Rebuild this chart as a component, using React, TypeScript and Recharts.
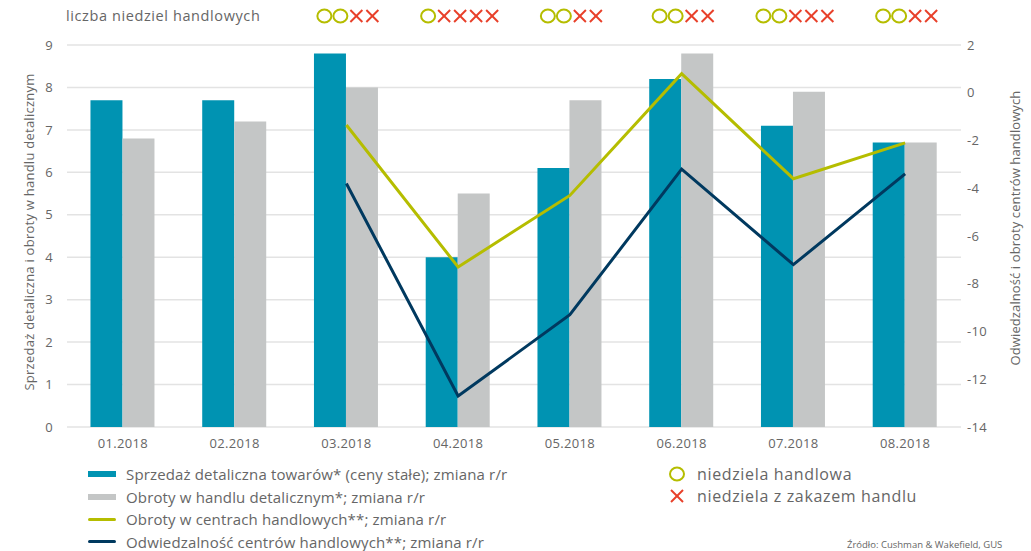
import React from 'react';
import { ComposedChart, Bar, Line, XAxis, YAxis, CartesianGrid } from 'recharts';

const months = ['01.2018', '02.2018', '03.2018', '04.2018', '05.2018', '06.2018', '07.2018', '08.2018'];
const retailSales = [7.7, 7.7, 8.8, 4.0, 6.1, 8.2, 7.1, 6.7];
const retailTurnover = [6.8, 7.2, 8.0, 5.5, 7.7, 8.8, 7.9, 6.7];
const centreTurnover = [null, null, -1.35, -7.3, -4.3, 0.8, -3.6, -2.1];
const centreFootfall = [null, null, -3.8, -12.7, -9.3, -3.2, -7.2, -3.4];
const tradingSundays = [0, 0, 2, 1, 2, 2, 2, 2];
const bannedSundays = [0, 0, 2, 4, 2, 2, 3, 2];

const leftTicks = [0, 1, 2, 3, 4, 5, 6, 7, 8, 9];
const rightTicks = [-14, -12, -10, -8, -6, -4, -2, 0, 2];

const TEAL = '#0093b2';
const GREY = '#c4c6c6';
const OLIVE = '#b5bd00';
const NAVY = '#00395f';
const RED = '#e8402a';
const TEXT = '#666666';
const FONT = '"Open Sans", sans-serif';

const data = months.map((m, i) => ({
  month: m,
  sprzedaz: retailSales[i],
  obroty: retailTurnover[i],
  centra: centreTurnover[i],
  odwiedzalnosc: centreFootfall[i],
}));

function Circle({ cx, cy }: { cx: number; cy: number }) {
  return <ellipse cx={cx} cy={cy} rx={7} ry={6.5} fill="none" stroke={OLIVE} strokeWidth={2} />;
}

function Cross({ cx, cy }: { cx: number; cy: number }) {
  const s = 6;
  return (
    <g stroke={RED} strokeWidth={2}>
      <line x1={cx - s} y1={cy - s} x2={cx + s} y2={cy + s} />
      <line x1={cx - s} y1={cy + s} x2={cx + s} y2={cy - s} />
    </g>
  );
}

// symbole niedziel nad kazdym miesiacem
function SundayTick(props: any) {
  const { x, payload } = props;
  const i = months.indexOf(payload.value);
  const t = tradingSundays[i] || 0;
  const b = bannedSundays[i] || 0;
  const n = t + b;
  const pitch = 16;
  const y = 16;
  const start = x - (n * pitch) / 2 + pitch / 2 + 2;
  const items = [];
  for (let k = 0; k < n; k++) {
    const cx = start + k * pitch;
    items.push(k < t ? <Circle key={k} cx={cx} cy={y} /> : <Cross key={k} cx={cx} cy={y} />);
  }
  return <g>{items}</g>;
}

const legendLeft = [
  { label: 'Sprzedaż detaliczna towarów* (ceny stałe); zmiana r/r', color: TEAL, kind: 'bar' },
  { label: 'Obroty w handlu detalicznym*; zmiana r/r', color: GREY, kind: 'bar' },
  { label: 'Obroty w centrach handlowych**; zmiana r/r', color: OLIVE, kind: 'line' },
  { label: 'Odwiedzalność centrów handlowych**; zmiana r/r', color: NAVY, kind: 'line' },
];

export default function App() {
  const tickStyle = { fill: TEXT, fontSize: 13, fontFamily: FONT, letterSpacing: 0.3 };
  return (
    <div style={{ position: 'absolute', left: 0, top: 0, width: 1031, height: 551, overflow: 'hidden', fontFamily: FONT, color: TEXT, background: '#fff' }}>
      <ComposedChart width={1031} height={551} data={data} margin={{ top: 0, right: 0, left: 0, bottom: 94 }} barCategoryGap="21%" barGap={0}>
        <CartesianGrid yAxisId="left" vertical={false} stroke="#e3e3e3" strokeWidth={1.5} />
        <XAxis dataKey="month" axisLine={false} tickLine={false} height={30} interval={0} tick={tickStyle} tickMargin={6} />
        <XAxis xAxisId="top" orientation="top" dataKey="month" height={45} axisLine={false} tickLine={false} interval={0} tick={<SundayTick />} />
        <YAxis yAxisId="left" width={67} domain={[0, 9]} ticks={leftTicks} axisLine={false} tickLine={false} tick={tickStyle} tickMargin={8} />
        <YAxis yAxisId="right" orientation="right" width={70} domain={[-14, 2]} ticks={rightTicks} axisLine={false} tickLine={false} tick={tickStyle} tickMargin={0} />
        <Bar yAxisId="left" dataKey="sprzedaz" fill={TEAL} isAnimationActive={false} />
        <Bar yAxisId="left" dataKey="obroty" fill={GREY} isAnimationActive={false} />
        <Line yAxisId="right" dataKey="centra" stroke={OLIVE} strokeWidth={3} dot={false} type="linear" isAnimationActive={false} />
        <Line yAxisId="right" dataKey="odwiedzalnosc" stroke={NAVY} strokeWidth={3} dot={false} type="linear" isAnimationActive={false} />
      </ComposedChart>

      <div style={{ position: 'absolute', left: 66, top: 6, fontSize: 14.5, letterSpacing: 0.6, lineHeight: '20px' }}>liczba niedziel handlowych</div>

      <div style={{ position: 'absolute', left: 29 - 200, top: 232 - 10, width: 400, height: 20, lineHeight: '20px', fontSize: 13, letterSpacing: 0.25, textAlign: 'center', transform: 'rotate(-90deg)' }}>
        Sprzedaż detaliczna i obroty w handlu detalicznym
      </div>
      <div style={{ position: 'absolute', left: 1015 - 200, top: 228 - 10, width: 400, height: 20, lineHeight: '20px', fontSize: 13, letterSpacing: 0.1, textAlign: 'center', transform: 'rotate(-90deg)' }}>
        Odwiedzalność i obroty centrów handlowych
      </div>

      {legendLeft.map((item, i) => (
        <div key={item.label} style={{ position: 'absolute', left: 88, top: 474 + i * 22.5 - 11, height: 22, display: 'flex', alignItems: 'center', fontSize: 15, letterSpacing: 0.15 }}>
          <span style={{ display: 'inline-block', width: 28, height: item.kind === 'bar' ? 6 : 3, borderRadius: item.kind === 'bar' ? 0 : 2, background: item.color, marginRight: 10 }} />
          <span>{item.label}</span>
        </div>
      ))}

      <div style={{ position: 'absolute', left: 668, top: 463, height: 22, display: 'flex', alignItems: 'center', fontSize: 16, letterSpacing: 0.65 }}>
        <svg width={18} height={16} style={{ marginRight: 11 }}><ellipse cx={9} cy={8} rx={7} ry={6.5} fill="none" stroke={OLIVE} strokeWidth={2} /></svg>
        <span>niedziela handlowa</span>
      </div>
      <div style={{ position: 'absolute', left: 668, top: 485, height: 22, display: 'flex', alignItems: 'center', fontSize: 16, letterSpacing: 0.65 }}>
        <svg width={18} height={16} style={{ marginRight: 11 }}>
          <g stroke={RED} strokeWidth={2}>
            <line x1={3} y1={2} x2={15} y2={14} />
            <line x1={3} y1={14} x2={15} y2={2} />
          </g>
        </svg>
        <span>niedziela z zakazem handlu</span>
      </div>

      <div style={{ position: 'absolute', left: 847, top: 539, fontSize: 9.5, lineHeight: '11px', whiteSpace: 'nowrap' }}>Źródło: Cushman &amp; Wakefield, GUS</div>
    </div>
  );
}
